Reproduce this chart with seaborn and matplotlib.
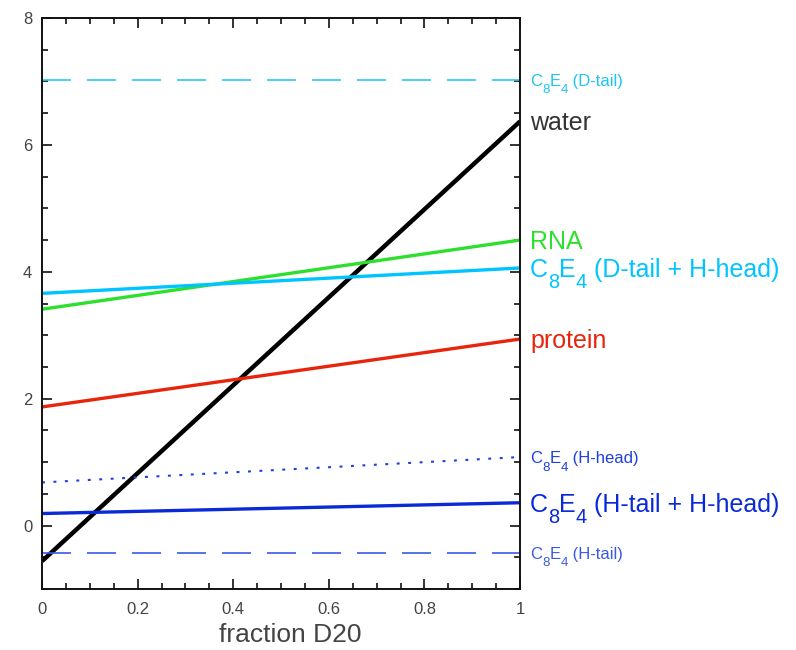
import numpy as np
import pandas as pd
import matplotlib
matplotlib.use("Agg")
import matplotlib.pyplot as plt
import seaborn as sns
from matplotlib.ticker import MultipleLocator, FixedLocator
from matplotlib.font_manager import FontProperties, findfont
from matplotlib.ft2font import FT2Font

# Scattering length densities against D2O fraction (end points at 0 and 1)
fraction = [0.0, 1.0]
water = [-0.56, 6.37]
rna = [3.41, 4.50]
c8e4_dtail_hhead = [3.66, 4.06]
protein = [1.87, 2.94]
c8e4_hhead = [0.68, 1.08]
c8e4_htail_hhead = [0.19, 0.36]
c8e4_htail = [-0.43, -0.43]
c8e4_dtail = [7.03, 7.03]

x_ticks = [0, 0.2, 0.4, 0.6, 0.8, 1]
x_tick_labels = ["0", "0.2", "0.4", "0.6", "0.8", "1"]
y_ticks = [0, 2, 4, 6, 8]
y_tick_labels = ["0", "2", "4", "6", "8"]

# Each label is a list of (text, is_subscript) runs
series_names = ["D-tail", "water", "RNA", "D-tail + H-head", "protein",
                "H-head", "H-tail + H-head", "H-tail"]
series_labels = [
    [("C", 0), ("8", 1), ("E", 0), ("4", 1), (" (D-tail)", 0)],
    [("water", 0)],
    [("RNA", 0)],
    [("C", 0), ("8", 1), ("E", 0), ("4", 1), (" (D-tail + H-head)", 0)],
    [("protein", 0)],
    [("C", 0), ("8", 1), ("E", 0), ("4", 1), (" (H-head)", 0)],
    [("C", 0), ("8", 1), ("E", 0), ("4", 1), (" (H-tail + H-head)", 0)],
    [("C", 0), ("8", 1), ("E", 0), ("4", 1), (" (H-tail)", 0)],
]
series_values = [c8e4_dtail, water, rna, c8e4_dtail_hhead, protein,
                 c8e4_hhead, c8e4_htail_hhead, c8e4_htail]

DASH = (0, (17.4, 9.6))
styles = {
    "D-tail": dict(color="#2bc9f2", lw=1.2, ls=DASH, text="#1fc3f5", fs=12),
    "water": dict(color="#000000", lw=3.2, ls="-", text="#333333", fs=18),
    "RNA": dict(color="#2ee02e", lw=2.4, ls="-", text="#2ee02e", fs=18),
    "D-tail + H-head": dict(color="#00c4ff", lw=2.4, ls="-", text="#00c4ff", fs=18),
    "protein": dict(color="#e8250c", lw=2.4, ls="-", text="#e8250c", fs=18),
    "H-head": dict(color="#1f3fe0", lw=1.5, ls=(0, (1.4, 4.1)), text="#1f3fe0", fs=12),
    "H-tail + H-head": dict(color="#0a2ad8", lw=2.4, ls="-", text="#0a2ad8", fs=18),
    "H-tail": dict(color="#3a5ae6", lw=1.2, ls=DASH, text="#3a5ae6", fs=12),
}

df = pd.DataFrame({
    "fraction": np.tile(fraction, len(series_names)),
    "sld": np.concatenate(series_values),
    "series": np.repeat(series_names, len(fraction)),
})

sns.set_theme(style="ticks")
plt.rcParams["font.family"] = ["Liberation Sans", "DejaVu Sans"]

DPI = 100
fig = plt.figure(figsize=(7.96, 6.5), dpi=DPI)
ax = fig.add_axes([0.0528, 0.0938, 0.6005, 0.8785])

font_file = findfont(FontProperties(family="Liberation Sans"))


def advance_px(text, size_pt):
    """Horizontal advance of a string in pixels."""
    ft = FT2Font(font_file)
    ft.set_size(size_pt, DPI)
    return sum(ft.load_char(ord(ch)).linearHoriAdvance / 65536.0 for ch in text)


def draw_label(y_end, runs, size_pt, color):
    """Write a label right of the axes, subscripts set below the baseline."""
    size_px = size_pt * DPI / 72.0
    base = -0.36 * size_px          # centre the capitals on the line end
    x = 10.0
    for text, is_sub in runs:
        fs = size_pt * (0.8 if is_sub else 1.0)
        dy = base - (0.45 * size_px if is_sub else 0.0)
        ax.annotate(text, xy=(1, y_end), xytext=(x, dy), textcoords="offset pixels",
                    ha="left", va="baseline", fontsize=fs, color=color,
                    annotation_clip=False)
        x += advance_px(text, fs)


for name, runs in zip(series_names, series_labels):
    st = styles[name]
    sub = df[df["series"] == name]
    sns.lineplot(data=sub, x="fraction", y="sld", ax=ax, color=st["color"],
                 linewidth=st["lw"], linestyle=st["ls"], legend=False,
                 solid_capstyle="butt", dash_capstyle="butt")
    draw_label(sub["sld"].iloc[-1], runs, st["fs"], st["text"])

ax.set_xlim(0, 1)
ax.set_ylim(-1, 8)
ax.xaxis.set_major_locator(FixedLocator(x_ticks))
ax.set_xticklabels(x_tick_labels)
ax.yaxis.set_major_locator(FixedLocator(y_ticks))
ax.set_yticklabels(y_tick_labels)
ax.xaxis.set_minor_locator(MultipleLocator(0.05))
ax.yaxis.set_minor_locator(MultipleLocator(0.5))

ax.tick_params(which="both", direction="in", top=True, right=True,
               colors="#111111", labelcolor="#444444", width=1.2)
ax.tick_params(which="major", length=7, labelsize=12)
ax.tick_params(axis="x", which="major", pad=9.5)
ax.tick_params(axis="y", which="major", pad=7)
ax.tick_params(which="minor", length=4)
for s in ax.spines.values():
    s.set_visible(True)
    s.set_linewidth(1.4)
    s.set_color("#111111")

ax.set_xlabel("fraction D20", fontsize=19, color="#444444")
ax.xaxis.set_label_coords(0.519, -0.0595)
ax.set_ylabel("")

fig.savefig("out.png", dpi=DPI)
